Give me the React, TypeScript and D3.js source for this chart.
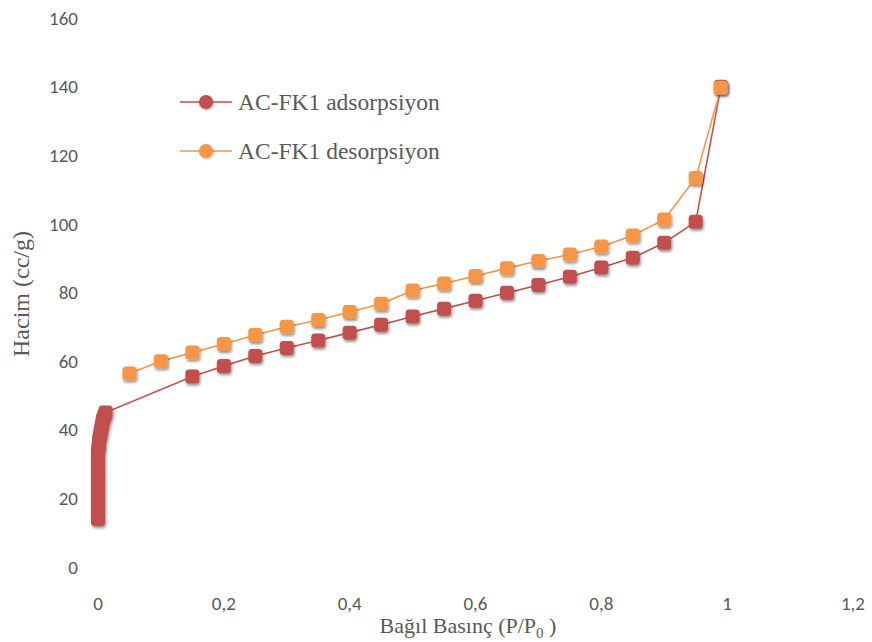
import React from "react";
import * as d3 from "d3";

// adsorption branch (P/P0, volume cc/g)
const adsX = [
  0.0, 0.0, 0.0, 0.0, 0.0, 0.0, 0.0, 0.0, 0.0, 0.0, 0.0, 0.0, 0.0, 0.0, 0.0,
  0.0005, 0.001, 0.0015, 0.002, 0.003, 0.004, 0.005, 0.006, 0.007, 0.008, 0.01, 0.012,
  0.15, 0.2, 0.25, 0.3, 0.35, 0.4, 0.45, 0.5, 0.55, 0.6, 0.65, 0.7, 0.75, 0.8, 0.85, 0.9, 0.95, 0.99,
];
const adsY = [
  14, 16, 18, 20, 22, 23, 24, 25, 26, 28, 29, 30, 31, 32, 33,
  34, 35, 36, 37, 38, 39, 40, 41, 42, 43, 44, 45,
  55.5, 58.6, 61.5, 63.8, 66, 68.3, 70.6, 73, 75.3, 77.6, 79.9, 82.2, 84.6, 87.3, 90.1, 94.5, 100.6, 140,
];

// desorption branch
const desX = [0.99, 0.95, 0.9, 0.85, 0.8, 0.75, 0.7, 0.65, 0.6, 0.55, 0.5, 0.45, 0.4, 0.35, 0.3, 0.25, 0.2, 0.15, 0.1, 0.05];
const desY = [139.7, 113.4, 101.3, 96.6, 93.4, 91.1, 89.2, 87.1, 84.8, 82.6, 80.6, 76.7, 74.3, 72, 70, 67.6, 65, 62.5, 60, 56.4];

const xTicks = [0, 0.2, 0.4, 0.6, 0.8, 1, 1.2];
const yTicks = [0, 20, 40, 60, 80, 100, 120, 140, 160];

const seriesNames = ["AC-FK1 adsorpsiyon", "AC-FK1 desorpsiyon"];
const seriesColors = ["#C0504D", "#F79646"];

const tickFont = "Carlito, 'Open Sans', 'DejaVu Sans', sans-serif";
const serif = "'Liberation Serif', 'Times New Roman', serif";

export default function App() {
  const width = 872;
  const height = 642;
  const x = d3.scaleLinear().domain([0, 1.2]).range([98, 853]);
  const y = d3.scaleLinear().domain([0, 160]).range([567, 18]);

  const series = [
    adsX.map((v, i) => [v, adsY[i]] as [number, number]),
    desX.map((v, i) => [v, desY[i]] as [number, number]),
  ];
  const line = d3
    .line<[number, number]>()
    .x((d) => x(d[0]))
    .y((d) => y(d[1]));

  const fmt = (v: number) => String(v).replace(".", ",");
  const m = 14;

  return (
    <svg
      width={width}
      height={height}
      style={{ position: "absolute", left: 0, top: 0, background: "#fff" }}
    >
      <defs>
        <filter id="shadow" x="-50%" y="-50%" width="200%" height="200%">
          <feDropShadow dx="1" dy="2" stdDeviation="1.6" floodColor="#000" floodOpacity="0.45" />
        </filter>
        <filter id="shadowL" x="-50%" y="-50%" width="200%" height="200%">
          <feDropShadow dx="0.5" dy="1" stdDeviation="0.8" floodColor="#000" floodOpacity="0.35" />
        </filter>
      </defs>

      {yTicks.map((t) => (
        <text
          key={"y" + t}
          x={78}
          y={y(t)}
          dy="0.35em"
          textAnchor="end"
          fontFamily={tickFont}
          fontSize={19}
          fill="#595959"
        >
          {t}
        </text>
      ))}
      {xTicks.map((t) => (
        <text
          key={"x" + t}
          x={x(t)}
          y={610}
          textAnchor="middle"
          fontFamily={tickFont}
          fontSize={19}
          fill="#595959"
        >
          {fmt(t)}
        </text>
      ))}

      <text x={468} y={633} textAnchor="middle" fontFamily={serif} fontSize={22} fill="#595959">
        Bağıl Basınç (P/P
        <tspan fontSize={15} dy={5}>0</tspan>
        <tspan dy={-5}> )</tspan>
      </text>
      <text
        transform="translate(29,294) rotate(-90)"
        textAnchor="middle"
        fontFamily={serif}
        fontSize={24}
        fill="#595959"
      >
        Hacim (cc/g)
      </text>

      {series.map((s, i) => (
        <g key={"s" + i}>
          <path d={line(s) || ""} fill="none" stroke={seriesColors[i]} strokeWidth={1.6} />
          <g filter="url(#shadow)">
            {s.map((d, j) => (
              <rect
                key={j}
                x={x(d[0]) - m / 2}
                y={y(d[1]) - m / 2}
                width={m}
                height={m}
                rx={3.5}
                fill={seriesColors[i]}
              />
            ))}
          </g>
        </g>
      ))}

      {seriesNames.map((name, i) => {
        const ly = 102 + i * 49;
        return (
          <g key={"l" + i}>
            <line x1={180} x2={232} y1={ly} y2={ly} stroke={seriesColors[i]} strokeWidth={1.6} />
            <circle cx={206} cy={ly} r={7} fill={seriesColors[i]} filter="url(#shadowL)" />
            <text x={238} y={ly} dy="0.35em" fontFamily={serif} fontSize={23.5} fill="#595959">
              {name}
            </text>
          </g>
        );
      })}
    </svg>
  );
}
